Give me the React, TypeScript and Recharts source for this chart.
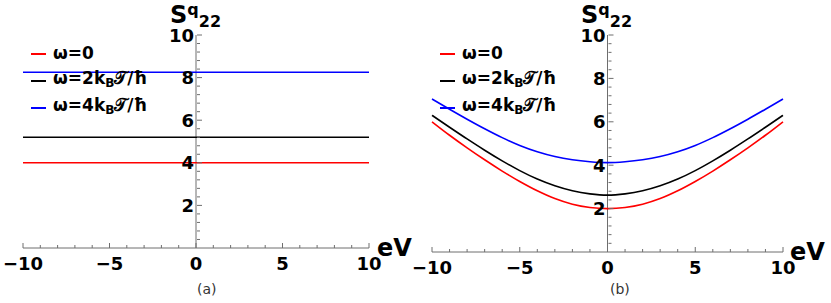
import React from "react";
import { Legend, Line, LineChart, ReferenceLine, XAxis, YAxis } from "recharts";

// panel (a): flat lines
const flatEv = [-10, 10];
const flatW0 = [4, 4];
const flatW2 = [5.2, 5.2];
const flatW4 = [8.25, 8.25];

// panel (b)
const curveEv = [-10, -9, -8, -7, -6, -5, -4, -3, -2, -1, 0, 1, 2, 3, 4, 5, 6, 7, 8, 9, 10];
const curveW0 = [6.0, 5.38, 4.8, 4.25, 3.73, 3.25, 2.82, 2.46, 2.2, 2.05, 2.0, 2.05, 2.2, 2.46, 2.82, 3.25, 3.73, 4.25, 4.8, 5.38, 6.0];
const curveW2 = [6.3, 5.75, 5.21, 4.69, 4.2, 3.75, 3.36, 3.05, 2.82, 2.68, 2.62, 2.68, 2.82, 3.05, 3.36, 3.75, 4.2, 4.69, 5.21, 5.75, 6.3];
const curveW4 = [7.05, 6.58, 6.12, 5.68, 5.27, 4.91, 4.62, 4.4, 4.25, 4.16, 4.12, 4.16, 4.25, 4.4, 4.62, 4.91, 5.27, 5.68, 6.12, 6.58, 7.05];

const xTicks = [-10, -9, -8, -7, -6, -5, -4, -3, -2, -1, 0, 1, 2, 3, 4, 5, 6, 7, 8, 9, 10];
const xLabels = [-10, -5, 0, 5, 10];
const yTicks = [0, 0.4, 0.8, 1.2, 1.6, 2, 2.4, 2.8, 3.2, 3.6, 4, 4.4, 4.8, 5.2, 5.6, 6, 6.4, 6.8, 7.2, 7.6, 8, 8.4, 8.8, 9.2, 9.6, 10];
const yLabels = [2, 4, 6, 8, 10];

const series = [
  { key: "w0", color: "#ff0000", label: "0" },
  { key: "w2", color: "#000000", label: "2" },
  { key: "w4", color: "#0000ff", label: "4" },
];

const AXIS = "#6e6e6e";
const FONT = "DejaVu Sans, sans-serif";

const flatData = flatEv.map((ev, i) => ({ ev, w0: flatW0[i], w2: flatW2[i], w4: flatW4[i] }));
const curveData = curveEv.map((ev, i) => ({ ev, w0: curveW0[i], w2: curveW2[i], w4: curveW4[i] }));

const fmt = (v: number) => (v < 0 ? "\u2212" + Math.abs(v) : String(v));

function XTick(props: any) {
  const { x, y, payload } = props;
  const v = payload.value;
  const major = xLabels.includes(v);
  return (
    <g>
      <line x1={x} x2={x} y1={y} y2={y - (major ? 5 : 3)} stroke={AXIS} strokeWidth={1} />
      {major && (
        <text x={x} y={y + 22} textAnchor="middle" fontFamily={FONT} fontWeight="bold" fontSize={18} fill="#000">
          {fmt(v)}
        </text>
      )}
    </g>
  );
}

function YTick(props: any) {
  const { y, payload, shift } = props;
  const cx = props.x + shift;
  const v = payload.value;
  const major = yLabels.some((l) => Math.abs(l - v) < 1e-6);
  if (Math.abs(v) < 1e-6) return <g />;
  return (
    <g>
      <line x1={cx} x2={cx + (major ? 5 : 3)} y1={y} y2={y} stroke={AXIS} strokeWidth={1} />
      {major && (
        <text x={cx - 3} y={y + 6.5} textAnchor="end" fontFamily={FONT} fontWeight="bold" fontSize={18} fill="#000">
          {Math.round(v)}
        </text>
      )}
    </g>
  );
}

function LegendRows() {
  return (
    <div style={{ fontFamily: FONT, fontWeight: "bold", fontSize: 17, color: "#000" }}>
      {series.map((s) => (
        <div key={s.key} style={{ height: 27, lineHeight: "27px", display: "flex", alignItems: "center", whiteSpace: "nowrap" }}>
          <span style={{ display: "inline-block", width: 15, height: 2, background: s.color, marginRight: 7 }} />
          <span>
            {"\u03c9="}
            {s.label === "0" ? (
              "0"
            ) : (
              <>
                {s.label}k<sub style={{ fontSize: 12, verticalAlign: "-3px" }}>B</sub>
                {"\ud835\udcaf/\u0127"}
              </>
            )}
          </span>
        </div>
      ))}
    </div>
  );
}

function Panel({ data, width, margin, legendLeft }: any) {
  const plotW = width - margin.left - margin.right - 1;
  return (
    <LineChart width={width} height={303} data={data} margin={margin}>
      <XAxis
        dataKey="ev"
        type="number"
        domain={[-10, 10]}
        ticks={xTicks}
        interval={0}
        height={30}
        tickSize={0}
        tickMargin={0}
        tickLine={false}
        axisLine={{ stroke: AXIS }}
        tick={<XTick />}
      />
      <YAxis
        type="number"
        domain={[0, 10]}
        ticks={yTicks}
        interval={0}
        width={1}
        tickSize={0}
        tickMargin={0}
        tickLine={false}
        axisLine={false}
        tick={<YTick shift={plotW / 2 + 1} />}
      />
      <ReferenceLine x={0} stroke={AXIS} strokeWidth={1} />
      {series.map((s) => (
        <Line
          key={s.key}
          dataKey={s.key}
          stroke={s.color}
          strokeWidth={1.6}
          dot={false}
          type="monotone"
          isAnimationActive={false}
        />
      ))}
      <Legend
        content={<LegendRows />}
        layout="vertical"
        verticalAlign="middle"
        align="center"
        wrapperStyle={{ left: legendLeft, top: 40, width: "auto" }}
      />
    </LineChart>
  );
}

function Label({ left, top, children, style }: any) {
  return (
    <div style={{ position: "absolute", left, top, fontFamily: FONT, whiteSpace: "nowrap", lineHeight: 1, ...style }}>
      {children}
    </div>
  );
}

function SLabel({ left }: { left: number }) {
  return (
    <Label left={left} top={3} style={{ fontWeight: "bold", fontSize: 24 }}>
      S
      <span style={{ fontSize: 16, position: "relative", top: -8 }}>q</span>
      <span style={{ fontSize: 16, position: "relative", top: 4 }}>22</span>
    </Label>
  );
}

export default function App() {
  return (
    <div style={{ position: "absolute", left: 0, top: 0, width: 831, height: 303, background: "#fff" }}>
      <style>{"svg.recharts-surface{overflow:visible}"}</style>
      <div style={{ position: "absolute", left: 0, top: 0 }}>
        <Panel data={flatData} width={415} margin={{ top: 35, right: 46, bottom: 25, left: 22 }} legendLeft={31} />
      </div>
      <div style={{ position: "absolute", left: 415, top: 0 }}>
        <Panel data={curveData} width={416} margin={{ top: 35, right: 48, bottom: 21, left: 16 }} legendLeft={25} />
      </div>
      <SLabel left={170} />
      <SLabel left={581} />
      <Label left={377} top={236} style={{ fontWeight: "bold", fontSize: 24 }}>eV</Label>
      <Label left={790} top={240} style={{ fontWeight: "bold", fontSize: 24 }}>eV</Label>
      <Label left={197} top={282} style={{ fontSize: 14, color: "#333" }}>(a)</Label>
      <Label left={610} top={282} style={{ fontSize: 14, color: "#333" }}>(b)</Label>
    </div>
  );
}
